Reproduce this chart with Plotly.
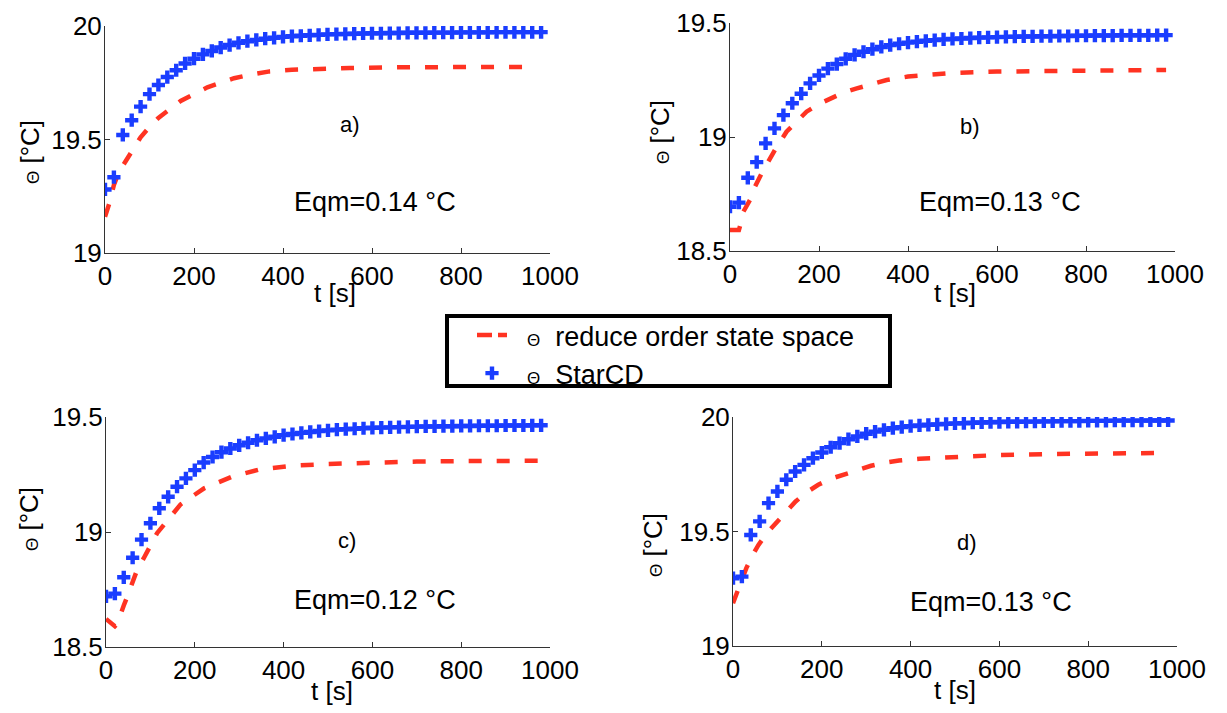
import plotly.graph_objects as go

# ---------------- data ----------------
t_cfd = [0, 20, 40, 60, 80, 100, 120, 140, 160, 180,
         200, 220, 240, 260, 280, 300, 320, 340, 360, 380,
         400, 420, 440, 460, 480, 500, 520, 540, 560, 580,
         600, 620, 640, 660, 680, 700, 720, 740, 760, 780,
         800, 820, 840, 860, 880, 900, 920, 940, 960, 980]

starcd_a = [19.28, 19.334, 19.52, 19.585, 19.645, 19.70, 19.74, 19.775, 19.805, 19.835,
            19.856, 19.875, 19.89, 19.905, 19.916, 19.926, 19.933, 19.939, 19.944, 19.948,
            19.952, 19.955, 19.957, 19.959, 19.961, 19.963, 19.964, 19.965, 19.966, 19.967,
            19.968, 19.968, 19.969, 19.969, 19.970, 19.970, 19.970, 19.971, 19.971, 19.971,
            19.972, 19.972, 19.972, 19.972, 19.973, 19.973, 19.973, 19.973, 19.973, 19.973]
starcd_b = [18.694, 18.712, 18.821, 18.89, 18.972, 19.038, 19.096, 19.148, 19.19, 19.235,
            19.27, 19.30, 19.32, 19.343, 19.36, 19.374, 19.385, 19.395, 19.403, 19.409,
            19.414, 19.418, 19.422, 19.425, 19.428, 19.430, 19.432, 19.434, 19.436, 19.437,
            19.438, 19.439, 19.440, 19.441, 19.441, 19.442, 19.442, 19.443, 19.443, 19.444,
            19.444, 19.445, 19.445, 19.445, 19.446, 19.446, 19.446, 19.446, 19.447, 19.447]
starcd_c = [18.72, 18.732, 18.803, 18.888, 18.967, 19.038, 19.103, 19.153, 19.197, 19.233,
            19.269, 19.302, 19.326, 19.347, 19.363, 19.377, 19.388, 19.399, 19.407, 19.414,
            19.421, 19.426, 19.431, 19.435, 19.439, 19.442, 19.445, 19.447, 19.449, 19.451,
            19.453, 19.454, 19.455, 19.456, 19.457, 19.458, 19.459, 19.459, 19.460, 19.460,
            19.461, 19.461, 19.462, 19.462, 19.462, 19.463, 19.463, 19.463, 19.464, 19.464]
starcd_d = [19.296, 19.303, 19.485, 19.544, 19.624, 19.675, 19.726, 19.762, 19.791, 19.82,
            19.845, 19.868, 19.886, 19.903, 19.915, 19.927, 19.936, 19.944, 19.951, 19.956,
            19.960, 19.963, 19.966, 19.968, 19.970, 19.972, 19.973, 19.975, 19.976, 19.977,
            19.978, 19.979, 19.979, 19.980, 19.980, 19.981, 19.981, 19.982, 19.982, 19.982,
            19.983, 19.983, 19.983, 19.984, 19.984, 19.984, 19.984, 19.985, 19.985, 19.985]

t_rom_a = [0, 10, 20, 30, 45, 60, 80, 100, 120, 140, 170, 200, 230, 260, 290, 330, 370, 420,
           480, 550, 650, 750, 850, 950]
rom_a = [19.16, 19.22, 19.30, 19.35, 19.40, 19.45, 19.51, 19.555, 19.595, 19.625, 19.67, 19.70,
         19.73, 19.75, 19.77, 19.787, 19.80, 19.807, 19.812, 19.815, 19.818, 19.819, 19.82, 19.82]
t_rom_b = [0, 20, 24, 30, 45, 56, 71, 86, 101, 127, 150, 172, 200, 225, 255, 285, 320, 352,
           400, 450, 500, 600, 700, 800, 900, 980]
rom_b = [18.592, 18.592, 18.62, 18.672, 18.724, 18.782, 18.84, 18.892, 18.943, 19.023, 19.07,
         19.111, 19.145, 19.17, 19.195, 19.213, 19.235, 19.25, 19.265, 19.275, 19.281, 19.287,
         19.29, 19.292, 19.293, 19.294]
t_rom_c = [0, 10, 20, 25, 30, 40, 50, 60, 70, 85, 100, 115, 134, 168, 221, 283, 346, 418,
           500, 600, 700, 800, 900, 980]
rom_c = [18.622, 18.603, 18.59, 18.60, 18.63, 18.68, 18.73, 18.785, 18.835, 18.886, 18.94,
         18.995, 19.04, 19.12, 19.19, 19.24, 19.272, 19.288, 19.296, 19.302, 19.306, 19.308,
         19.309, 19.31]
t_rom_d = [0, 15, 30, 45, 57, 75, 96, 120, 141, 165, 192, 220, 250, 280, 311, 340, 374, 420,
           500, 600, 700, 800, 900, 980]
rom_d = [19.187, 19.267, 19.34, 19.40, 19.44, 19.49, 19.536, 19.59, 19.631, 19.67, 19.704,
         19.73, 19.748, 19.77, 19.787, 19.80, 19.81, 19.818, 19.826, 19.834, 19.838, 19.841,
         19.842, 19.843]

panel_labels = ["a)", "b)", "c)", "d)"]
eqm_labels = ["Eqm=0.14 °C", "Eqm=0.13 °C", "Eqm=0.12 °C", "Eqm=0.13 °C"]
y_ranges = [[19, 20], [18.5, 19.5], [18.5, 19.5], [19, 20]]
y_ticks = [[19, 19.5, 20], [18.5, 19, 19.5], [18.5, 19, 19.5], [19, 19.5, 20]]
y_ticktext = [["19", "19.5", "20"], ["18.5", "19", "19.5"], ["18.5", "19", "19.5"], ["19", "19.5", "20"]]
x_ticks = [0, 200, 400, 600, 800, 1000]
legend_names = ["reduce order state space", "StarCD"]

# ---------------- layout geometry (pixels in 1227x713) ----------------
W, H = 1227, 713
FONT = "Liberation Sans, Arial, sans-serif"
RED = "#ff3322"
BLUE = "#1a3dff"

panels = [
    dict(x0=105, x1=550, ytop=26, ybot=253),
    dict(x0=730, x1=1175, ytop=23, ybot=251),
    dict(x0=106, x1=550, ytop=417, ybot=647),
    dict(x0=733, x1=1177, ytop=417, ybot=646),
]
# positions of texts in data coordinates (panel label, Eqm)
label_pos = [(551, 19.564), (539, 19.044), (543, 18.965), (528, 19.45)]
eqm_pos = [(607, 19.225), (607, 18.715), (606, 18.704), (582, 19.19)]
# axis titles in pixel coords (centres)
xtitle_px = [(335, 293), (955, 293), (332, 691), (955, 690)]
ytitle_px = [(30, 152), (660, 132), (29, 519), (653, 545)]

starcd = [starcd_a, starcd_b, starcd_c, starcd_d]
rom_t = [t_rom_a, t_rom_b, t_rom_c, t_rom_d]
rom = [rom_a, rom_b, rom_c, rom_d]

theta = "<span style='font-size:17px'>Θ</span>"
nb = "\u00a0"

fig = go.Figure()
layout = dict(
    template="none",
    width=W, height=H, autosize=False,
    margin=dict(l=0, r=0, t=0, b=0, pad=0),
    paper_bgcolor="white", plot_bgcolor="white",
    font=dict(family=FONT, size=26, color="black"),
    showlegend=True,
)
annotations = []
for i in range(4):
    p = panels[i]
    sfx = "" if i == 0 else str(i + 1)
    xa, ya = "x" + sfx, "y" + sfx
    fig.add_trace(go.Scatter(
        x=rom_t[i], y=rom[i], mode="lines", xaxis=xa, yaxis=ya,
        line=dict(color=RED, width=4.5, dash="13px,15px"),
        name=legend_names[0], legendgroup="rom", showlegend=False,
    ))
    fig.add_trace(go.Scatter(
        x=t_cfd, y=starcd[i], mode="markers", xaxis=xa, yaxis=ya,
        marker=dict(symbol="cross", size=11, color=BLUE, line=dict(width=0)),
        name=nb * 2 + theta + nb + " " + legend_names[1], legendgroup="cfd",
        showlegend=(i == 0), legendrank=2,
    ))
    axstyle = dict(showline=True, linecolor="#333333", linewidth=1, ticks="inside",
                   ticklen=5, tickcolor="#333333", showgrid=False, zeroline=False,
                   automargin=False, mirror=False,
                   tickfont=dict(family=FONT, size=26, color="black"))
    layout["xaxis" + sfx] = dict(
        domain=[p["x0"] / W, p["x1"] / W], anchor=ya, range=[0, 1000],
        tickvals=x_ticks, ticktext=[str(v) for v in x_ticks], **axstyle)
    layout["yaxis" + sfx] = dict(
        domain=[1 - p["ybot"] / H, 1 - p["ytop"] / H], anchor=xa, range=y_ranges[i],
        tickvals=y_ticks[i], ticktext=y_ticktext[i], ticklabelstandoff=-3, **axstyle)
    annotations.append(dict(x=label_pos[i][0], y=label_pos[i][1], xref=xa, yref=ya,
                            xanchor="center", yanchor="middle",
                            text=panel_labels[i], showarrow=False,
                            font=dict(family=FONT, size=22, color="black")))
    annotations.append(dict(x=eqm_pos[i][0], y=eqm_pos[i][1], xref=xa, yref=ya,
                            xanchor="center", yanchor="middle",
                            text=eqm_labels[i], showarrow=False,
                            font=dict(family=FONT, size=27, color="black")))
    annotations.append(dict(x=xtitle_px[i][0] / W, y=1 - xtitle_px[i][1] / H,
                            xref="paper", yref="paper", xanchor="center", yanchor="middle",
                            text="t [s]", showarrow=False,
                            font=dict(family=FONT, size=26, color="black")))
    annotations.append(dict(x=ytitle_px[i][0] / W, y=1 - ytitle_px[i][1] / H,
                            xref="paper", yref="paper", xanchor="center", yanchor="middle",
                            text=theta + " [°C]",
                            textangle=-90, showarrow=False,
                            font=dict(family=FONT, size=26, color="black")))

# legend entry for the reduced-order model (same colour/width, legend-style dash)
fig.add_trace(go.Scatter(
    x=[None], y=[None], mode="lines", xaxis="x", yaxis="y",
    line=dict(color=RED, width=4.5, dash="15px,6px"),
    name=nb * 2 + theta + nb + " " + legend_names[0], legendgroup="rom",
    showlegend=True, legendrank=1, hoverinfo="skip",
))

layout["annotations"] = annotations
layout["shapes"] = [dict(type="rect", xref="paper", yref="paper",
                         x0=447 / W, x1=890 / W, y0=1 - 386 / H, y1=1 - 316 / H,
                         line=dict(color="black", width=4), fillcolor="rgba(0,0,0,0)")]
layout["legend"] = dict(x=472 / W, y=1 - 311 / H, xanchor="left", yanchor="top",
                        bgcolor="rgba(0,0,0,0)", borderwidth=0,
                        font=dict(family=FONT, size=27, color="black"),
                        tracegroupgap=0, traceorder="normal")
fig.update_layout(**layout)
fig.write_html("out.html")
